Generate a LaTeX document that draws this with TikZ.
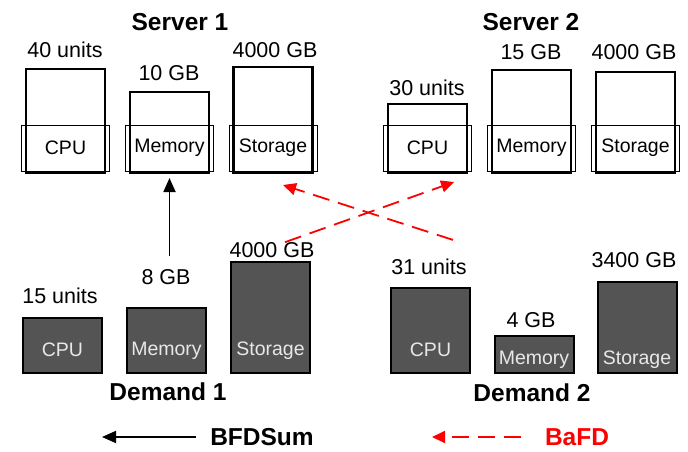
\documentclass[tikz,border=0pt]{standalone}
\usepackage{fontspec}
\setmainfont{Liberation Sans}
\usepackage{xcolor}
\usetikzlibrary{positioning,calc,arrows.meta}

\definecolor{dmdgray}{RGB}{84,84,84}
\definecolor{dmdtext}{RGB}{232,232,232}
\definecolor{bafdred}{RGB}{255,0,0}

\tikzset{
  srvbox/.style={draw, line width=2.2pt, minimum width=79pt, anchor=south, inner sep=0pt},
  tagbox/.style={draw, line width=0.8pt, minimum width=88pt, minimum height=46pt, inner sep=0pt,
                 font=\fontsize{19.5}{22}\selectfont},
  dmdbox/.style={draw, line width=2pt, fill=dmdgray, minimum width=79pt, anchor=south, inner sep=0pt},
  dmdtag/.style={text=dmdtext, inner sep=0pt, font=\fontsize{19.5}{22}\selectfont},
  amount/.style={inner sep=0pt, font=\fontsize{21.5}{24}\selectfont},
  title/.style={inner sep=0pt, font=\fontsize{24.5}{28}\selectfont\bfseries},
  bfdsum/.style={line width=1.8pt, -{Triangle[length=14pt,width=12pt]}},
  bafd/.style={line width=1.8pt, bafdred, dash pattern=on 17pt off 9pt, -{Triangle[length=13pt,width=12pt]}}
}

\begin{document}
\begin{tikzpicture}[x=1pt,y=-1pt]
    \useasboundingbox (0,0) rectangle (688,452);

    % Titles
    \node[title] (srv1) at (180,22) {Server 1};
    \node[title] (srv2) at (531,22) {Server 2};
    \node[title] (dmd1) at (168,392) {Demand 1};
    \node[title] (dmd2) at (532,393) {Demand 2};

    % Server capacities
    \foreach \n/\x/\h/\vx/\vy/\v/\t in {s1cpu/65.5/104/65/50/40 units/CPU, s1mem/169.5/81/169/73/10 GB/Memory,
        s1sto/273/106/275/50/4000 GB/Storage, s2cpu/427.5/69/427/88/30 units/CPU,
        s2mem/531.5/103/531/52/15 GB/Memory, s2sto/635.5/101/634/52/4000 GB/Storage} {
        \node[srvbox, minimum height=\h pt] (\n) at (\x,174) {};
        \node[tagbox] (\n-t) at (\x,148) {\t};
        \node[amount] (\n-v) at (\vx,\vy) {\v};
    }

    % Demands
    \foreach \n/\x/\h/\vx/\vy/\v/\t/\ly in {d1cpu/62.5/55/60/296/15 units/CPU/350, d1mem/166.5/65/166/277/8 GB/Memory/351,
        d1sto/270.5/111/272/250/4000 GB/Storage/351, d2cpu/430.5/85/429/267/31 units/CPU/350,
        d2mem/534/37/531/320/4 GB/Memory/360, d2sto/637/91/634/260/3400 GB/Storage/360} {
        \node[dmdbox, minimum height=\h pt] (\n) at (\x,374) {};
        \node[dmdtag] (\n-t) at (\x,\ly) {\t};
        \node[amount] (\n-v) at (\vx,\vy) {\v};
    }

    % Placements
    \draw[bfdsum] ($(d1mem-v.north)+(3.5,-13)$) -- ($(s1mem.south)+(0,4)$);
    \draw[bafd] ($(d1sto-v.north)+(13,0)$) -- ($(s2cpu.south east)+(-14,8)$);
    \draw[bafd] ($(d2cpu-v.north)+(24,-19)$) -- ($(s1sto.south)+(10,11)$);

    % Legend
    \node[title] (bfd) at (262,437) {BFDSum};
    \node[title, text=bafdred] (bafdlbl) at (577,437) {BaFD};
    \coordinate (bfdtip) at (102,437);
    \coordinate (bafdtip) at (432,437);
    \draw[bfdsum] ($(bfd.west)+(-14,0)$) -- (bfdtip);
    \draw[bafd] ($(bafdlbl.west)+(-24,0)$) -- (bafdtip);
\end{tikzpicture}
\end{document}
